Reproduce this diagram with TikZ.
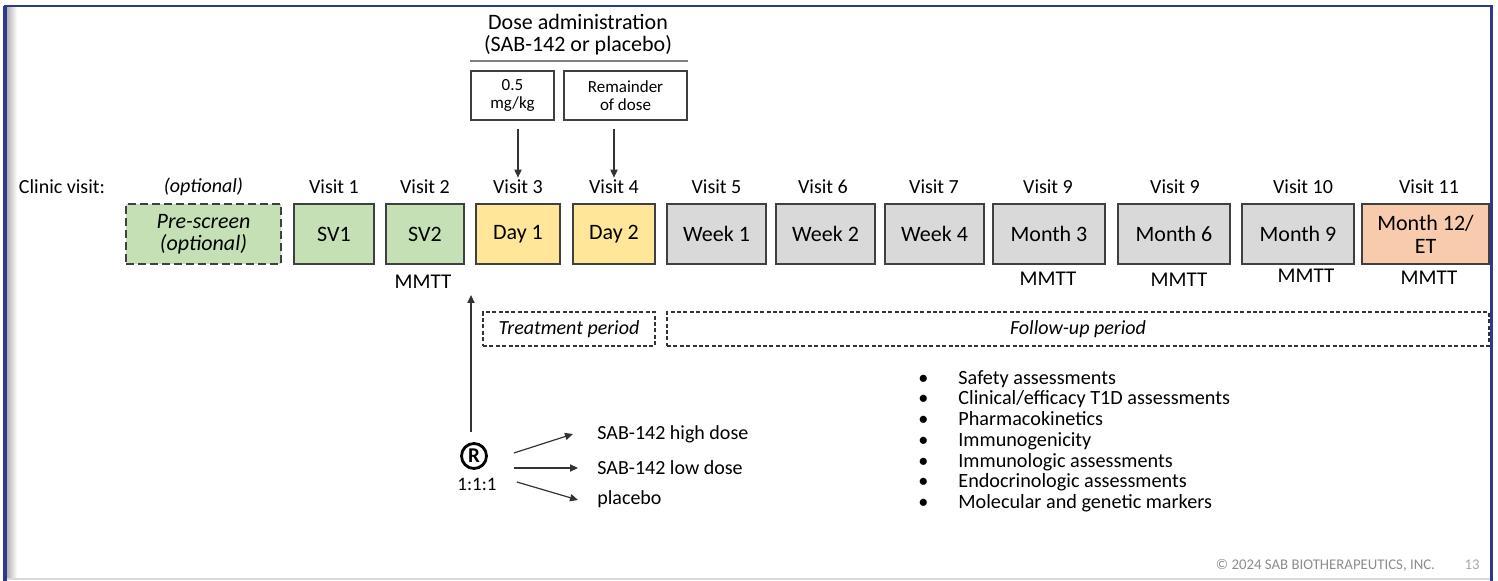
\documentclass[tikz,border=0pt]{standalone}
\usepackage{fontspec}
\setmainfont{Carlito}
\usetikzlibrary{arrows.meta,calc}
\definecolor{slideblue}{HTML}{2B3990}
\definecolor{visitgreen}{HTML}{C5E0B4}
\definecolor{visityellow}{HTML}{FFE699}
\definecolor{visitgrey}{HTML}{D9D9D9}
\definecolor{visitorange}{HTML}{F8CBAD}
\definecolor{edgegrey}{HTML}{404040}
\tikzset{
  vbox/.style={draw=edgegrey, line width=1pt, minimum height=30pt, inner sep=1pt,
               align=center, font=\fontsize{11}{11.5}\selectfont},
  vgreen/.style={vbox, fill=visitgreen},
  vyellow/.style={vbox, fill=visityellow},
  vgrey/.style={vbox, fill=visitgrey},
  vorange/.style={vbox, fill=visitorange},
  vlabel/.style={font=\fontsize{10}{12}\selectfont, inner sep=1pt},
  mmtt/.style={font=\fontsize{10.5}{12}\selectfont, inner sep=1pt},
  dosebox/.style={draw=edgegrey, line width=0.8pt, minimum height=24.5pt, align=center,
                  font=\fontsize{8.5}{9}\selectfont},
  period/.style={draw=black!80, line width=0.75pt, dash pattern=on 2pt off 1.2pt,
                 minimum height=17pt, font=\fontsize{10}{11}\selectfont\itshape},
  varrow/.style={-{Triangle[length=4pt,width=3.6pt]}, draw=black!80, line width=0.6pt},
  armlabel/.style={font=\fontsize{10}{11}\selectfont, anchor=west, inner sep=0pt},
}

\begin{document}
\begin{tikzpicture}[x=0.5pt, y=-0.5pt]
  \useasboundingbox (0,0) rectangle (1498,581);
  % --- slide frame ---
  \fill[left color=black!30, right color=white] (7,8) rectangle (17,578);
  \draw[black!15, line width=0.8pt] (7,579) -- (1491,579);
  \draw[slideblue, line width=2pt] (4.5,581) -- (4.5,6);
  \draw[slideblue, line width=1.2pt] (4,6) -- (1491.5,6) -- (1491.5,581);

  % --- dose administration ---
  \node[font=\fontsize{11}{11}\selectfont, align=center] (dosehead) at (578,35)
    {Dose administration\\(SAB-142 or placebo)};
  \node[dosebox, minimum width=41.5pt] (dose1) at (512.5,95.5) {0.5\\mg/kg};
  \node[dosebox, minimum width=61.5pt] (dose2) at (625.5,95.5) {Remainder\\of dose};
  \draw[black!50, line width=0.8pt] ([yshift=4.5pt]dose1.north west) -- ([yshift=4.5pt]dose2.north east);

  % --- clinic visits ---
  \node[vlabel] (clinic) at (62,187) {Clinic visit:};
  \node[vlabel, font=\fontsize{10}{12}\selectfont\itshape] (vopt) at (203.5,187) {(optional)};
  \node[vlabel] (v1)  at (334,187)  {Visit 1};
  \node[vlabel] (v2)  at (425,187)  {Visit 2};
  \node[vlabel] (v3)  at (518,187)  {Visit 3};
  \node[vlabel] (v4)  at (614,187)  {Visit 4};
  \node[vlabel] (v5)  at (716.5,187) {Visit 5};
  \node[vlabel] (v6)  at (823,187)  {Visit 6};
  \node[vlabel] (v7)  at (934,187)  {Visit 7};
  \node[vlabel] (v8)  at (1048,187) {Visit 9};
  \node[vlabel] (v9)  at (1175,187) {Visit 9};
  \node[vlabel] (v10) at (1303,187) {Visit 10};
  \node[vlabel] (v11) at (1429,187) {Visit 11};

  \node[vgreen, minimum width=77.5pt, dash pattern=on 4pt off 2pt,
        font=\fontsize{11}{11}\selectfont\itshape] (pre) at (203.5,234) {Pre-screen\\(optional)};
  \node[vgreen,  minimum width=40pt]   (sv1)  at (334,234)    {SV1};
  \node[vgreen,  minimum width=39pt]   (sv2)  at (425,234)    {SV2};
  \node[vyellow, minimum width=42pt]   (day1) at (518,234)    {Day 1};
  \node[vyellow, minimum width=41pt]   (day2) at (614,234)    {Day 2};
  \node[vgrey,   minimum width=49.5pt] (wk1)  at (716.5,234)  {Week 1};
  \node[vgrey,   minimum width=49.5pt] (wk2)  at (825.5,234)  {Week 2};
  \node[vgrey,   minimum width=49.5pt] (wk4)  at (934.5,234)  {Week 4};
  \node[vgrey,   minimum width=56pt]   (m3)   at (1049,234)   {Month 3};
  \node[vgrey,   minimum width=56pt]   (m6)   at (1174,234)   {Month 6};
  \node[vgrey,   minimum width=56pt]   (m9)   at (1298,234)   {Month 9};
  \node[vorange, minimum width=63.5pt] (m12)  at (1425.5,234) {Month 12/\\ET};

  \node[mmtt] (mmtt2)  at (423,282)  {MMTT};
  \node[mmtt] (mmtt3)  at (1048,279) {MMTT};
  \node[mmtt] (mmtt6)  at (1179,280) {MMTT};
  \node[mmtt] (mmtt9)  at (1306,276) {MMTT};
  \node[mmtt] (mmtt12) at (1429,278) {MMTT};

  \draw[varrow] ($(dose1.south -| v3.north)+(0,8)$) -- (v3.north);
  \draw[varrow] ($(dose2.south -| v4.north)+(0,8)$) -- (v4.north);

  % --- periods ---
  \node[period, minimum width=86pt]  (treat)  at (569,329)  {Treatment period};
  \node[period, minimum width=411pt] (follow) at (1078,329) {Follow-up period};

  % --- randomization ---
  \node[draw, circle, line width=1.4pt, inner sep=0pt, minimum size=12.5pt,
        font=\fontsize{10.5}{10}\selectfont\bfseries] (rand) at (474,456) {R};
  \node[font=\fontsize{9.5}{11}\selectfont, inner sep=1pt] (ratio) at (477,484) {1:1:1};
  \coordinate (randtip) at (471,295);
  \draw[varrow, shorten <=5pt] (rand.north -| randtip) -- (randtip);

  \node[armlabel] (high) at (597,434) {SAB-142 high dose};
  \node[armlabel] (low)  at (597,468) {SAB-142 low dose};
  \node[armlabel] (plac) at (597,499) {placebo};
  \draw[varrow] ($(rand.east)+(26,-3)$) -- ($(high.west)+(-24,0)$);
  \draw[varrow] ($(rand.east)+(26,12)$) -- ($(low.west)+(-19,0)$);
  \draw[varrow] ($(rand.east)+(29,26)$) -- ($(plac.west)+(-19,1)$);

  % --- follow-up assessments ---
  \node[anchor=north west, align=left, inner sep=0pt, font=\fontsize{10.1}{10.35}\selectfont] (assess) at (918,370)
    {\makebox[20pt][l]{\textbullet}Safety assessments\\
     \makebox[20pt][l]{\textbullet}Clinical/efficacy T1D assessments\\
     \makebox[20pt][l]{\textbullet}Pharmacokinetics\\
     \makebox[20pt][l]{\textbullet}Immunogenicity\\
     \makebox[20pt][l]{\textbullet}Immunologic assessments\\
     \makebox[20pt][l]{\textbullet}Endocrinologic assessments\\
     \makebox[20pt][l]{\textbullet}Molecular and genetic markers};

  \node[font=\fontsize{7.4}{8}\selectfont, text=black!45, anchor=east] (copy) at (1442,565)
    {\textcopyright{} 2024 SAB BIOTHERAPEUTICS, INC.};
  \node[font=\fontsize{7.4}{8}\selectfont, text=black!35] (pageno) at (1472,565) {13};
\end{tikzpicture}
\end{document}
